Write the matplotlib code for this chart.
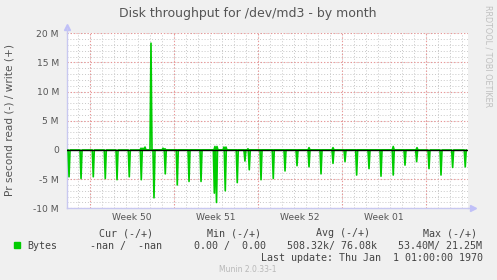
import numpy as np
import matplotlib
matplotlib.use("Agg")
import matplotlib.pyplot as plt
from matplotlib.patches import Rectangle

# x axis is in days from the left edge of the graph, y in MB/s
# read (plotted negative), spike time and depth
read_days = [0.17, 1.17, 2.19, 3.19, 4.17, 5.19, 6.19, 7.25, 8.19, 9.19,
             10.17, 11.17, 12.28, 12.46, 13.19, 14.19, 14.83, 15.19, 16.17,
             17.19, 18.17, 19.17, 20.17, 21.17, 22.17, 23.17, 24.14, 25.17,
             26.17, 27.19, 28.17, 29.14, 30.17, 31.17, 32.14, 33.19]
read_vals = [4.6, 4.9, 4.6, 4.9, 5.1, 4.6, 5.1, 8.2, 4.1, 6.0,
             5.4, 5.4, 7.4, 9.0, 7.0, 5.6, 1.9, 3.4, 5.1,
             4.9, 3.6, 2.7, 2.9, 4.1, 2.3, 2.0, 4.3, 3.2,
             4.5, 4.3, 2.6, 2.0, 3.2, 4.3, 3.0, 2.9]

# write (positive)
write_days = [6.17, 6.33, 6.5, 7.0, 8.0, 8.17, 12.33, 12.5, 13.08, 13.25,
              15.08, 20.17, 22.17, 27.19, 29.17]
write_vals = [0.3, 0.3, 0.5, 18.3, 0.3, 0.2, 0.6, 0.6, 0.5, 0.5,
              0.2, 0.4, 0.4, 0.6, 0.4]

week_lines = [1.92, 8.92, 15.92, 22.92, 29.92]
week_labels = ["Week 50", "Week 51", "Week 52", "Week 01"]
y_ticks = [-10, -5, 0, 5, 10, 15, 20]
y_labels = ["-10 M", "-5 M", "0", "5 M", "10 M", "15 M", "20 M"]

X_MAX = 33.42
STEP = 1.0 / 12  # one sample = 2 hours
GREEN = "#00cc00"
TXT = "#555555"


def spikes(days, vals, sign):
    t, v = [], []
    for d, val in sorted(zip(days, vals)):
        t += [d - STEP, d, d + STEP]
        v += [0, sign * val, 0]
    return t, v


def main():
    fig = plt.figure(figsize=(4.97, 2.80), dpi=100)
    fig.patch.set_facecolor("#f0f0f0")
    ax = fig.add_axes([67 / 497, 1 - 208.3 / 280, 401 / 497, 175 / 280])
    ax.set_facecolor("white")
    ax.set_xlim(0, X_MAX)
    ax.set_ylim(-10, 20)

    # grid
    for d in np.arange(week_lines[0] - 1, X_MAX, 1.0):
        ax.axvline(d, color="#c8c8c8", lw=0.7, ls=(0, (1, 2)), zorder=1)
    for y in range(-10, 21):
        ax.axhline(y, color="#c8c8c8", lw=0.7, ls=(0, (1, 2)), zorder=1)
    for d in week_lines:
        ax.axvline(d, color="#ee9090", lw=0.8, ls=(0, (1, 2)), zorder=1.5)
    for y in y_ticks:
        ax.axhline(y, color="#ee9090", lw=0.8, ls=(0, (1, 2)), zorder=1.5)

    t, v = spikes(read_days, read_vals, -1)
    ax.plot(t, v, color=GREEN, lw=1.2, zorder=3)
    t, v = spikes(write_days, write_vals, 1)
    ax.plot(t, v, color=GREEN, lw=1.2, zorder=3)
    ax.axhline(0, color="black", lw=1.0, zorder=4)

    # axes
    for s in ["top", "right"]:
        ax.spines[s].set_visible(False)
    for s in ["left", "bottom"]:
        ax.spines[s].set_color("#c8c8f0")
        ax.spines[s].set_linewidth(1.0)
    ax.plot(0, 1.035, marker="^", ms=4, color="#c0c0f8", transform=ax.transAxes, clip_on=False)
    ax.plot([0, 0], [1.0, 1.03], color="#c8c8f0", lw=1, transform=ax.transAxes, clip_on=False)
    ax.plot([1.0, 1.008], [0, 0], color="#c8c8f0", lw=1, transform=ax.transAxes, clip_on=False)
    ax.plot(1.012, 0, marker=">", ms=4, color="#c0c0f8", transform=ax.transAxes, clip_on=False)

    ax.set_yticks(y_ticks)
    ax.set_yticklabels(y_labels)
    mids = [(a + b) / 2 for a, b in zip(week_lines[:-1], week_lines[1:])]
    ax.set_xticks(mids)
    ax.set_xticklabels(week_labels)
    ax.tick_params(axis="both", length=0, labelsize=6.6, labelcolor=TXT)
    ax.tick_params(axis="y", pad=5.8)
    ax.tick_params(axis="x", pad=3.4)

    fig.text(248 / 497, 1 - 13.3 / 280, "Disk throughput for /dev/md3 - by month",
             ha="center", va="center", fontsize=9, color=TXT)
    fig.text(10 / 497, 1 - 120 / 280, "Pr second read (-) / write (+)",
             ha="center", va="center", rotation=90, fontsize=7.6, color=TXT)
    fig.text(488 / 497, 1 - 56 / 280, "RRDTOOL / TOBI OETIKER",
             ha="center", va="center", rotation=270, fontsize=5.8, color="#c0c0c0")

    # legend, monospace like rrdtool
    mono = dict(family="DejaVu Sans Mono", fontsize=7.2, color="#444444", va="center")
    y1 = 1 - 233.3 / 280
    y2 = 1 - 245.7 / 280
    y3 = 1 - 257.7 / 280
    for x, s in [(99, "Cur (-/+)"), (207, "Min (-/+)"), (316, "Avg (-/+)"), (423, "Max (-/+)")]:
        fig.text(x / 497, y1, s, ha="left", **mono)
    for x, s in [(27, "Bytes"), (90, "-nan /  -nan"), (194, "0.00 /  0.00"),
                 (287, "508.32k/ 76.08k"), (398, "53.40M/ 21.25M")]:
        fig.text(x / 497, y2, s, ha="left", **mono)
    fig.text(483 / 497, y3, "Last update: Thu Jan  1 01:00:00 1970", ha="right", **mono)
    fig.patches.append(Rectangle((14 / 497, 1 - 248 / 280), 6 / 497, 6 / 280,
                                 transform=fig.transFigure, color=GREEN))
    fig.text(248 / 497, 1 - 269 / 280, "Munin 2.0.33-1", ha="center", va="center",
             fontsize=5.5, color="#b8b8b8")

    fig.savefig("out.png", dpi=100, facecolor=fig.get_facecolor())


if __name__ == "__main__":
    main()
